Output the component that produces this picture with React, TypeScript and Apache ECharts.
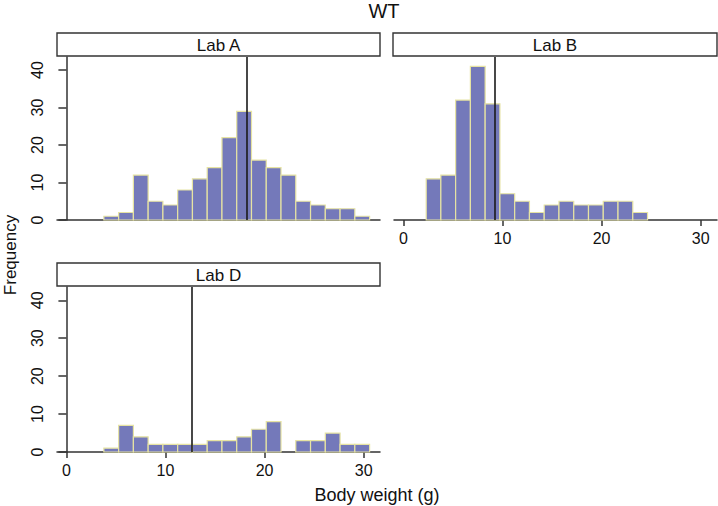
import React, { useEffect, useRef } from "react";
import * as echarts from "echarts";

const binEdges = [2.3, 3.78, 5.27, 6.76, 8.25, 9.74, 11.23, 12.72, 14.21, 15.7, 17.19, 18.68, 20.17, 21.66, 23.15, 24.64, 26.13, 27.62, 29.11, 30.6];
const labACounts = [0, 1, 2, 12, 5, 4, 8, 11, 14, 22, 29, 16, 14, 12, 5, 4, 3, 3, 1];
const labBCounts = [11, 12, 32, 41, 31, 7, 5, 2, 4, 5, 4, 4, 5, 5, 2, 0, 0, 0, 0];
const labDCounts = [0, 1, 7, 4, 2, 2, 2, 2, 3, 3, 4, 6, 8, 0, 3, 3, 5, 2, 2];
const labMeans = [18.2, 9.18, 12.6];
const labNames = ["Lab A", "Lab B", "Lab D"];
const xTicks = [0, 10, 20, 30];
const yTicks = [0, 10, 20, 30, 40];

const FONT = "'Liberation Sans', Arial, Helvetica, sans-serif";
const FILL = "#7479ba";
const EDGE = "#e6e3a3";
const AXIS = "#333333";

function histData(counts: number[]) {
  const out: number[][] = [];
  counts.forEach((c, i) => {
    if (c > 0) out.push([binEdges[i], binEdges[i + 1], c]);
  });
  return out;
}

export default function App() {
  const ref = useRef<HTMLDivElement>(null);
  useEffect(() => {
    if (!ref.current) return;
    const chart = echarts.init(ref.current, null, { renderer: "svg" });
    const grids = [
      { left: 57, top: 57, width: 323, height: 163 },
      { left: 394, top: 57, width: 323, height: 163 },
      { left: 57, top: 287, width: 323, height: 165 },
    ];
    const xAxes = grids.map((_, i) => ({
      type: "value",
      gridIndex: i,
      min: -0.95,
      max: 31.65,
      interval: 10,
      splitLine: { show: false },
      axisLine: { show: true, onZero: false, lineStyle: { color: AXIS, width: 1.5 } },
      axisTick: { show: i !== 0, length: 6, lineStyle: { color: AXIS, width: 1.5 }, customValues: xTicks },
      axisLabel: {
        show: i !== 0,
        customValues: xTicks,
        fontSize: 16,
        color: "#111",
        fontFamily: FONT,
        margin: 10,
      },
    }));
    const yAxes = grids.map((_, i) => ({
      type: "value",
      gridIndex: i,
      min: 0,
      max: 43.5,
      interval: 10,
      splitLine: { show: false },
      axisLine: { show: i !== 1, lineStyle: { color: AXIS, width: 1.5 } },
      axisTick: { show: i !== 1, length: 8, lineStyle: { color: AXIS, width: 1.5 }, customValues: yTicks },
      axisLabel: {
        show: i !== 1,
        customValues: yTicks,
        rotate: 90,
        fontSize: 16,
        color: "#111",
        fontFamily: FONT,
        margin: 12,
      },
    }));
    const countsList = [labACounts, labBCounts, labDCounts];
    const series = countsList.map((counts, i) => ({
      type: "custom",
      xAxisIndex: i,
      yAxisIndex: i,
      data: histData(counts),
      renderItem: (params: any, api: any) => {
        const p0 = api.coord([api.value(0), api.value(2)]);
        const p1 = api.coord([api.value(1), 0]);
        return {
          type: "rect",
          shape: { x: p0[0], y: p0[1], width: p1[0] - p0[0], height: p1[1] - p0[1] },
          style: { fill: FILL, stroke: EDGE, lineWidth: 1.2 },
        };
      },
      markLine: {
        silent: true,
        symbol: "none",
        label: { show: false },
        lineStyle: { color: "#1a1a1a", width: 1.6, type: "solid" },
        data: [{ xAxis: labMeans[i] }],
      },
    }));
    const headerBoxes = [
      { x: 57, y: 33, w: 323 },
      { x: 393, y: 33, w: 324 },
      { x: 57, y: 263, w: 323 },
    ];
    const graphic: any[] = [];
    headerBoxes.forEach((h, i) => {
      graphic.push({
        type: "rect",
        shape: { x: h.x, y: h.y, width: h.w, height: 23 },
        style: { fill: "#fff", stroke: AXIS, lineWidth: 1.4 },
        z: 10,
      });
      graphic.push({
        type: "text",
        x: h.x + h.w / 2,
        y: h.y + 12,
        style: {
          text: labNames[i],
          fontSize: 17,
          fontFamily: FONT,
          fill: "#111",
          align: "center",
          verticalAlign: "middle",
        },
        z: 11,
      });
    });
    graphic.push({
      type: "text",
      x: 384,
      y: 11,
      style: { text: "WT", fontSize: 20, fontFamily: FONT, fill: "#111", align: "center", verticalAlign: "middle" },
    });
    graphic.push({
      type: "text",
      x: 377,
      y: 495,
      style: { text: "Body weight (g)", fontSize: 18, fontFamily: FONT, fill: "#111", align: "center", verticalAlign: "middle" },
    });
    graphic.push({
      type: "text",
      x: 10,
      y: 255,
      rotation: Math.PI / 2,
      style: { text: "Frequency", fontSize: 17, fontFamily: FONT, fill: "#111", align: "center", verticalAlign: "middle" },
    });
    chart.setOption({
      animation: false,
      backgroundColor: "#ffffff",
      grid: grids,
      xAxis: xAxes,
      yAxis: yAxes,
      series,
      graphic,
    });
    return () => chart.dispose();
  }, []);
  return (
    <div
      ref={ref}
      style={{ position: "fixed", left: 0, top: 0, width: 718, height: 506 }}
    />
  );
}
